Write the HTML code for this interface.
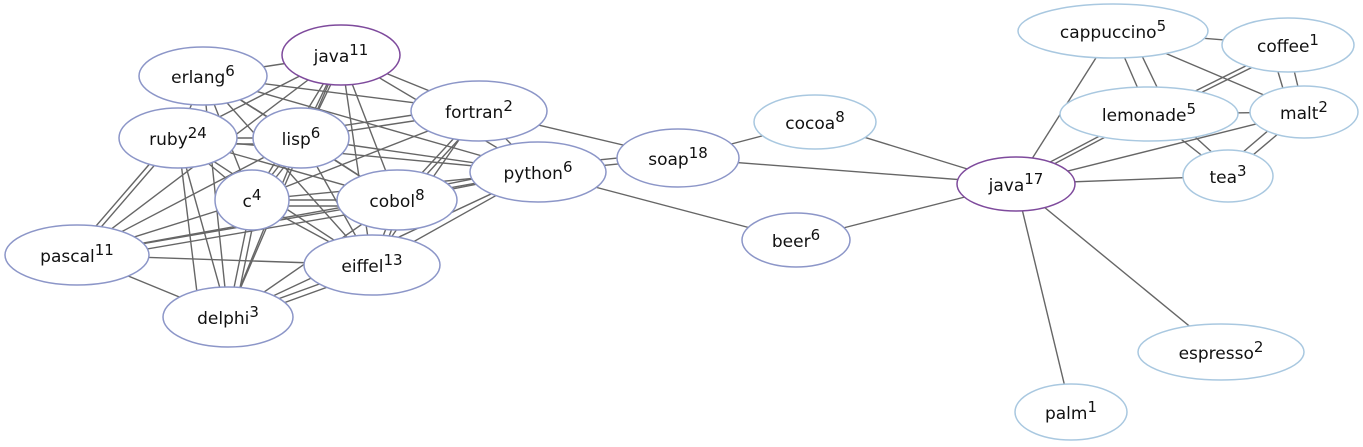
<!DOCTYPE html>
<html><head><meta charset="utf-8"><style>
html,body{margin:0;padding:0;background:#fff;}
svg{display:block;}
text{font-family:"DejaVu Sans","Liberation Sans",sans-serif;font-size:17px;fill:#111;}
.s{font-size:15px;}
</style></head><body>
<svg width="1363" height="447" viewBox="0 0 1363 447" xmlns="http://www.w3.org/2000/svg">
<g stroke="#666" stroke-width="1.4" fill="none">
<line x1="203" y1="76" x2="341" y2="55"/>
<line x1="203" y1="76" x2="479" y2="111"/>
<line x1="203" y1="76" x2="178" y2="138"/>
<line x1="203" y1="76" x2="301" y2="138"/>
<line x1="203" y1="76" x2="538" y2="172"/>
<line x1="203" y1="76" x2="252" y2="200"/>
<line x1="203" y1="76" x2="397" y2="200"/>
<line x1="203" y1="76" x2="228" y2="317"/>
<line x1="203" y1="76" x2="372" y2="265"/>
<line x1="341" y1="55" x2="479" y2="111"/>
<line x1="341" y1="55" x2="178" y2="138"/>
<line x1="341" y1="55" x2="301" y2="138"/>
<line x1="345" y1="55" x2="305" y2="138"/>
<line x1="341" y1="55" x2="538" y2="172"/>
<line x1="341" y1="55" x2="252" y2="200"/>
<line x1="341" y1="55" x2="397" y2="200"/>
<line x1="341" y1="55" x2="372" y2="265"/>
<line x1="341" y1="55" x2="77" y2="255"/>
<line x1="341" y1="55" x2="228" y2="317"/>
<line x1="479" y1="111" x2="301" y2="138"/>
<line x1="479" y1="105" x2="301" y2="132"/>
<line x1="479" y1="111" x2="538" y2="172"/>
<line x1="479" y1="111" x2="252" y2="200"/>
<line x1="479" y1="111" x2="397" y2="200"/>
<line x1="485" y1="111" x2="403" y2="200"/>
<line x1="479" y1="111" x2="372" y2="265"/>
<line x1="479" y1="111" x2="678" y2="158"/>
<line x1="178" y1="138" x2="301" y2="138"/>
<line x1="178" y1="144" x2="301" y2="144"/>
<line x1="178" y1="138" x2="538" y2="172"/>
<line x1="178" y1="138" x2="252" y2="200"/>
<line x1="178" y1="138" x2="397" y2="200"/>
<line x1="178" y1="138" x2="77" y2="255"/>
<line x1="172" y1="138" x2="71" y2="255"/>
<line x1="178" y1="138" x2="372" y2="265"/>
<line x1="178" y1="138" x2="228" y2="317"/>
<line x1="178" y1="138" x2="200" y2="317"/>
<line x1="301" y1="138" x2="538" y2="172"/>
<line x1="301" y1="138" x2="252" y2="200"/>
<line x1="307" y1="138" x2="258" y2="200"/>
<line x1="301" y1="138" x2="397" y2="200"/>
<line x1="301" y1="138" x2="77" y2="255"/>
<line x1="301" y1="138" x2="372" y2="265"/>
<line x1="301" y1="138" x2="228" y2="317"/>
<line x1="538" y1="172" x2="252" y2="200"/>
<line x1="538" y1="172" x2="397" y2="200"/>
<line x1="538" y1="166" x2="397" y2="194"/>
<line x1="538" y1="172" x2="372" y2="265"/>
<line x1="538" y1="172" x2="77" y2="255"/>
<line x1="538" y1="172" x2="228" y2="317"/>
<line x1="538" y1="172" x2="678" y2="158"/>
<line x1="538" y1="166" x2="678" y2="152"/>
<line x1="538" y1="172" x2="796" y2="240"/>
<line x1="252" y1="200" x2="397" y2="200"/>
<line x1="252" y1="206" x2="397" y2="206"/>
<line x1="252" y1="200" x2="77" y2="255"/>
<line x1="252" y1="200" x2="372" y2="265"/>
<line x1="252" y1="200" x2="228" y2="317"/>
<line x1="258" y1="200" x2="234" y2="317"/>
<line x1="397" y1="200" x2="77" y2="255"/>
<line x1="397" y1="206" x2="77" y2="261"/>
<line x1="397" y1="200" x2="372" y2="265"/>
<line x1="403" y1="200" x2="378" y2="265"/>
<line x1="397" y1="200" x2="228" y2="317"/>
<line x1="77" y1="255" x2="372" y2="265"/>
<line x1="77" y1="255" x2="228" y2="317"/>
<line x1="372" y1="265" x2="228" y2="317"/>
<line x1="372" y1="271" x2="228" y2="323"/>
<line x1="678" y1="158" x2="815" y2="122"/>
<line x1="678" y1="158" x2="1016" y2="184"/>
<line x1="815" y1="122" x2="1016" y2="184"/>
<line x1="796" y1="240" x2="1016" y2="184"/>
<line x1="1016" y1="184" x2="1113" y2="31"/>
<line x1="1016" y1="184" x2="1149" y2="114"/>
<line x1="1016" y1="180" x2="1149" y2="110"/>
<line x1="1016" y1="184" x2="1304" y2="112"/>
<line x1="1016" y1="184" x2="1228" y2="176"/>
<line x1="1016" y1="184" x2="1221" y2="352"/>
<line x1="1016" y1="184" x2="1071" y2="412"/>
<line x1="1113" y1="31" x2="1288" y2="45"/>
<line x1="1113" y1="31" x2="1149" y2="114"/>
<line x1="1130" y1="31" x2="1170" y2="114"/>
<line x1="1113" y1="31" x2="1304" y2="112"/>
<line x1="1288" y1="45" x2="1149" y2="114"/>
<line x1="1291" y1="48" x2="1152" y2="117"/>
<line x1="1288" y1="45" x2="1304" y2="112"/>
<line x1="1270" y1="45" x2="1290" y2="112"/>
<line x1="1149" y1="114" x2="1304" y2="112"/>
<line x1="1149" y1="114" x2="1228" y2="176"/>
<line x1="1170" y1="114" x2="1238" y2="176"/>
<line x1="1304" y1="112" x2="1228" y2="176"/>
<line x1="1290" y1="112" x2="1215" y2="176"/>
</g>
<g stroke-width="1.5" fill="#fff">
<ellipse cx="203" cy="76" rx="64" ry="29" stroke="#8c96c8"/>
<ellipse cx="341" cy="55" rx="59" ry="30" stroke="#7e4a9c"/>
<ellipse cx="479" cy="111" rx="68" ry="30" stroke="#8c96c8"/>
<ellipse cx="178" cy="138" rx="59" ry="30" stroke="#8c96c8"/>
<ellipse cx="301" cy="138" rx="48" ry="30" stroke="#8c96c8"/>
<ellipse cx="538" cy="172" rx="68" ry="30" stroke="#8c96c8"/>
<ellipse cx="252" cy="200" rx="37" ry="30" stroke="#8c96c8"/>
<ellipse cx="397" cy="200" rx="60" ry="30" stroke="#8c96c8"/>
<ellipse cx="77" cy="255" rx="72" ry="30" stroke="#8c96c8"/>
<ellipse cx="372" cy="265" rx="68" ry="30" stroke="#8c96c8"/>
<ellipse cx="228" cy="317" rx="65" ry="30" stroke="#8c96c8"/>
<ellipse cx="678" cy="158" rx="61" ry="29" stroke="#8c96c8"/>
<ellipse cx="815" cy="122" rx="61" ry="27" stroke="#a9c8e0"/>
<ellipse cx="796" cy="240" rx="54" ry="27" stroke="#8c96c8"/>
<ellipse cx="1016" cy="184" rx="59" ry="27" stroke="#7e4a9c"/>
<ellipse cx="1113" cy="31" rx="95" ry="27" stroke="#a9c8e0"/>
<ellipse cx="1288" cy="45" rx="66" ry="27" stroke="#a9c8e0"/>
<ellipse cx="1149" cy="114" rx="89" ry="27" stroke="#a9c8e0"/>
<ellipse cx="1304" cy="112" rx="54" ry="26" stroke="#a9c8e0"/>
<ellipse cx="1228" cy="176" rx="45" ry="26" stroke="#a9c8e0"/>
<ellipse cx="1221" cy="352" rx="83" ry="28" stroke="#a9c8e0"/>
<ellipse cx="1071" cy="412" rx="56" ry="28" stroke="#a9c8e0"/>
</g>
<g text-anchor="middle">
<text x="203" y="83">erlang<tspan class="s" dy="-7">6</tspan></text>
<text x="341" y="62">java<tspan class="s" dy="-7">11</tspan></text>
<text x="479" y="118">fortran<tspan class="s" dy="-7">2</tspan></text>
<text x="178" y="145">ruby<tspan class="s" dy="-7">24</tspan></text>
<text x="301" y="145">lisp<tspan class="s" dy="-7">6</tspan></text>
<text x="538" y="179">python<tspan class="s" dy="-7">6</tspan></text>
<text x="252" y="207">c<tspan class="s" dy="-7">4</tspan></text>
<text x="397" y="207">cobol<tspan class="s" dy="-7">8</tspan></text>
<text x="77" y="262">pascal<tspan class="s" dy="-7">11</tspan></text>
<text x="372" y="272">eiffel<tspan class="s" dy="-7">13</tspan></text>
<text x="228" y="324">delphi<tspan class="s" dy="-7">3</tspan></text>
<text x="678" y="165">soap<tspan class="s" dy="-7">18</tspan></text>
<text x="815" y="129">cocoa<tspan class="s" dy="-7">8</tspan></text>
<text x="796" y="247">beer<tspan class="s" dy="-7">6</tspan></text>
<text x="1016" y="191">java<tspan class="s" dy="-7">17</tspan></text>
<text x="1113" y="38">cappuccino<tspan class="s" dy="-7">5</tspan></text>
<text x="1288" y="52">coffee<tspan class="s" dy="-7">1</tspan></text>
<text x="1149" y="121">lemonade<tspan class="s" dy="-7">5</tspan></text>
<text x="1304" y="119">malt<tspan class="s" dy="-7">2</tspan></text>
<text x="1228" y="183">tea<tspan class="s" dy="-7">3</tspan></text>
<text x="1221" y="359">espresso<tspan class="s" dy="-7">2</tspan></text>
<text x="1071" y="419">palm<tspan class="s" dy="-7">1</tspan></text>
</g>
</svg>
</body></html>
